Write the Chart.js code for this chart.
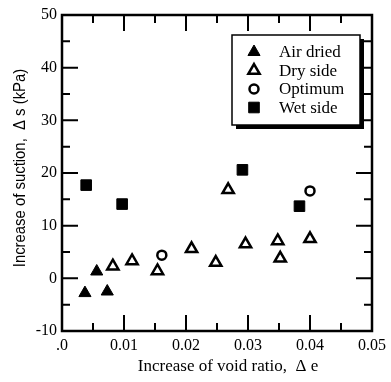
<!DOCTYPE html>
<html>
<head>
<meta charset="utf-8">
<script src="https://cdn.jsdelivr.net/npm/chart.js@4.4.1/dist/chart.umd.min.js"></script>
<style>
  html, body { margin: 0; padding: 0; background: #fff; }
  #wrap { width: 391px; height: 382px; }
</style>
</head>
<body>
<div id="wrap"><canvas id="suctionChart" width="391" height="382"></canvas></div>
<script>
// Measured points: increase of void ratio (x) vs increase of suction in kPa (y)
const airDriedX = [0.0037, 0.0056, 0.0073];
const airDriedY = [-2.8, 1.3, -2.5];

const drySideX = [0.0082, 0.0113, 0.0154, 0.0209, 0.0248, 0.0268, 0.0296, 0.0348, 0.0352, 0.0400];
const drySideY = [2.3, 3.3, 1.4, 5.6, 3.0, 16.8, 6.5, 7.1, 3.8, 7.5];

const optimumX = [0.0161, 0.0400];
const optimumY = [4.4, 16.6];

const wetSideX = [0.0039, 0.0097, 0.0291, 0.0383];
const wetSideY = [17.7, 14.1, 20.6, 13.7];

const xTickLabels = [".0", "0.01", "0.02", "0.03", "0.04", "0.05"];
const yTickLabels = ["-10", "0", "10", "20", "30", "40", "50"];

const xTitle = "Increase of void ratio,  Δ e";
const yTitle = "Increase of suction,  Δ s (kPa)";

const serif = "'Liberation Serif', 'Times New Roman', serif";
const sans = "'Liberation Sans', Arial, sans-serif";

const toPoints = (xs, ys) => xs.map((x, i) => ({ x: x, y: ys[i] }));

// frame with inward major/minor ticks on all four sides, axis titles, boxed legend
const frameAndLegend = {
  id: "frameAndLegend",
  afterDatasetsDraw(chart) {
    const { ctx, chartArea: a, scales } = chart;
    ctx.save();
    ctx.strokeStyle = "#000";
    ctx.lineWidth = 2.5;
    ctx.strokeRect(a.left, a.top, a.right - a.left, a.bottom - a.top);

    ctx.lineWidth = 2;
    const major = 16, minor = 8;
    const xs = scales.x.ticks.map(t => t.value);
    xs.forEach((v, i) => {
      const marks = [[v, major]];
      if (i < xs.length - 1) marks.push([(v + xs[i + 1]) / 2, minor]);
      marks.forEach(([val, len]) => {
        const px = scales.x.getPixelForValue(val);
        ctx.beginPath();
        ctx.moveTo(px, a.bottom); ctx.lineTo(px, a.bottom - len);
        ctx.moveTo(px, a.top); ctx.lineTo(px, a.top + len);
        ctx.stroke();
      });
    });
    const ys = scales.y.ticks.map(t => t.value);
    ys.forEach((v, i) => {
      const marks = [[v, major]];
      if (i < ys.length - 1) marks.push([(v + ys[i + 1]) / 2, minor]);
      marks.forEach(([val, len]) => {
        const py = scales.y.getPixelForValue(val);
        ctx.beginPath();
        ctx.moveTo(a.left, py); ctx.lineTo(a.left + len, py);
        ctx.moveTo(a.right, py); ctx.lineTo(a.right - len, py);
        ctx.stroke();
      });
    });

    // axis titles
    ctx.fillStyle = "#000";
    ctx.textAlign = "center";
    ctx.textBaseline = "middle";
    ctx.font = "17px " + serif;
    ctx.fillText(xTitle, (a.left + a.right) / 2 + 11, 367);

    ctx.save();
    ctx.translate(21, 168);
    ctx.rotate(-Math.PI / 2);
    ctx.scale(0.93, 1);
    ctx.font = "16px " + sans;
    ctx.fillText(yTitle, 0, 0);
    ctx.restore();

    // legend box with drop shadow
    const box = { left: 232, top: 35, width: 128, height: 90 };
    ctx.fillStyle = "#000";
    ctx.fillRect(box.left + 4, box.top + 4, box.width, box.height);
    ctx.fillStyle = "#fff";
    ctx.fillRect(box.left, box.top, box.width, box.height);
    ctx.lineWidth = 1.5;
    ctx.strokeRect(box.left, box.top, box.width, box.height);

    ctx.font = "17px " + serif;
    ctx.textAlign = "left";
    chart.data.datasets.forEach((ds, i) => {
      const y = box.top + 17 + i * 18.5;
      ctx.fillStyle = ds.backgroundColor;
      ctx.strokeStyle = ds.borderColor;
      ctx.lineWidth = ds.borderWidth;
      Chart.helpers.drawPoint(ctx, {
        pointStyle: ds.pointStyle,
        radius: ds.pointRadius,
        rotation: 0,
        borderWidth: ds.borderWidth
      }, box.left + 22, y);
      ctx.fillStyle = "#000";
      ctx.fillText(ds.label, box.left + 47, y + 1);
    });
    ctx.restore();
  }
};

new Chart(document.getElementById("suctionChart"), {
  type: "scatter",
  data: {
    datasets: [
      {
        label: "Air dried",
        data: toPoints(airDriedX, airDriedY),
        pointStyle: "triangle",
        pointRadius: 7,
        backgroundColor: "#000",
        borderColor: "#000",
        borderWidth: 1
      },
      {
        label: "Dry side",
        data: toPoints(drySideX, drySideY),
        pointStyle: "triangle",
        pointRadius: 6.5,
        backgroundColor: "#fff",
        borderColor: "#000",
        borderWidth: 2.5
      },
      {
        label: "Optimum",
        data: toPoints(optimumX, optimumY),
        pointStyle: "circle",
        pointRadius: 4.5,
        backgroundColor: "#fff",
        borderColor: "#000",
        borderWidth: 2.5
      },
      {
        label: "Wet side",
        data: toPoints(wetSideX, wetSideY),
        pointStyle: "rect",
        pointRadius: 7.5,
        backgroundColor: "#000",
        borderColor: "#000",
        borderWidth: 1
      }
    ]
  },
  options: {
    responsive: false,
    animation: false,
    layout: { padding: { top: 15, right: 17, left: 0, bottom: 0 } },
    plugins: {
      legend: { display: false },
      tooltip: { enabled: false }
    },
    scales: {
      x: {
        type: "linear",
        min: 0,
        max: 0.05,
        afterFit: s => { s.height = 51; },
        grid: { display: false, drawTicks: false },
        border: { display: false },
        ticks: {
          stepSize: 0.01,
          padding: 5,
          color: "#000",
          font: { family: serif, size: 16 },
          maxRotation: 0,
          callback: (v, i) => xTickLabels[i]
        }
      },
      y: {
        type: "linear",
        min: -10,
        max: 50,
        afterFit: s => { s.width = 62; },
        grid: { display: false, drawTicks: false },
        border: { display: false },
        ticks: {
          stepSize: 10,
          padding: 5,
          color: "#000",
          font: { family: serif, size: 16 },
          callback: (v, i) => yTickLabels[i]
        }
      }
    }
  },
  plugins: [frameAndLegend]
});
</script>
</body>
</html>
